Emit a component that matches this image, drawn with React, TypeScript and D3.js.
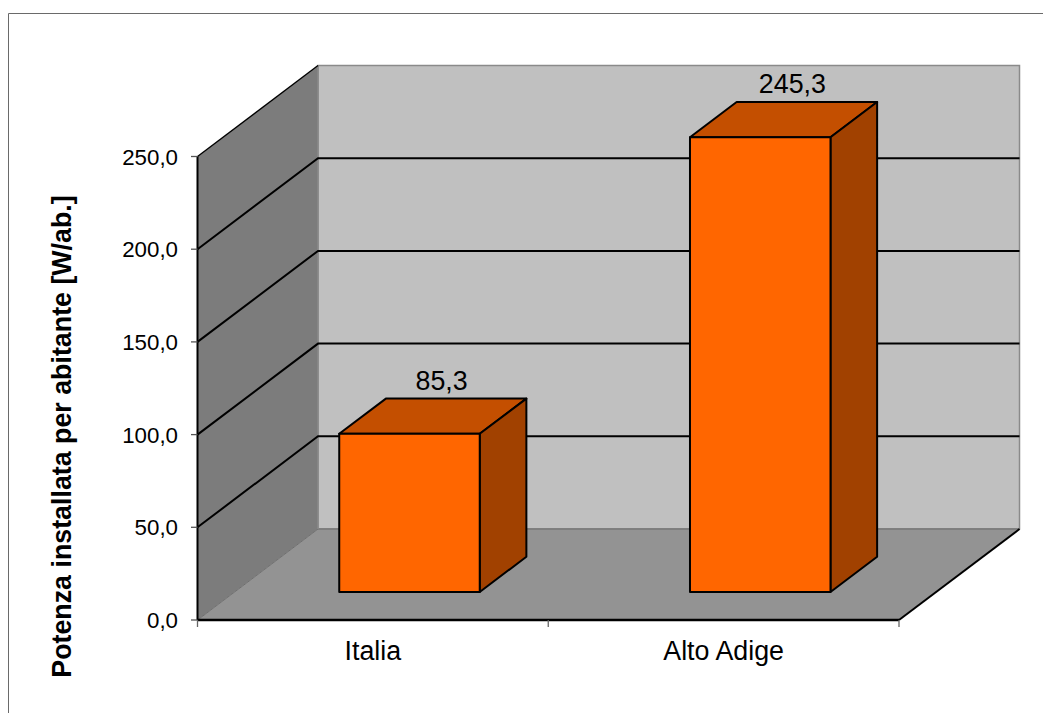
import React from "react";
import * as d3 from "d3";

const categories = ["Italia", "Alto Adige"];
const values = [85.3, 245.3];
const valueLabels = ["85,3", "245,3"];
const yTicks = [0, 50, 100, 150, 200, 250];
const yTickLabels = ["0,0", "50,0", "100,0", "150,0", "200,0", "250,0"];
const yTitle = "Potenza installata per abitante [W/ab.]";

const FONT = "'Liberation Sans', Arial, sans-serif";
const DEPTH_X = 120.5;
const DEPTH_Y = 91;
const BAR_NEAR = 0.308;
const BAR_FAR = 0.695;
const BAR_W = 140.5;

const x = d3.scaleBand<string>().domain(categories).range([197.5, 899]);
const y = d3.scaleLinear().domain([0, 250]).range([620, 156.5]);

type P = [number, number];
const proj = (px: number, v: number, z: number): P => [px + z * DEPTH_X, y(v) - z * DEPTH_Y];
const poly = (pts: P[]) => d3.line()(pts)! + "Z";
const seg = (a: P, b: P) => d3.line()([a, b])!;

export default function App() {
  const [x0, x1] = x.range();
  return (
    <svg width={1043} height={713} viewBox="0 0 1043 713"
      style={{ position: "absolute", left: 0, top: 0, background: "#fff" }} fontFamily={FONT}>
      <path d="M8.5 713V13.5H1043" fill="none" stroke="#6a6a6a" strokeWidth={1} />

      <path d={poly([proj(x0, 0, 1), proj(x1, 0, 1), proj(x1, 250, 1), proj(x0, 250, 1)])}
        fill="#c0c0c0" stroke="#8a8a8a" strokeWidth={1.5} />
      <path d={poly([proj(x0, 0, 0), proj(x0, 0, 1), proj(x0, 250, 1), proj(x0, 250, 0)])}
        fill="#7c7c7c" stroke="none" />
      <path d={poly([proj(x0, 0, 0), proj(x1, 0, 0), proj(x1, 0, 1), proj(x0, 0, 1)])}
        fill="#939393" stroke="none" />
      <path d={seg(proj(x0, 0, 0), proj(x0, 0, 1))} stroke="#6f6f6f" strokeWidth={1} />
      <path d={seg(proj(x0, 0, 1), proj(x1, 0, 1))} stroke="#777" strokeWidth={1.5} />
      <path d={seg(proj(x0, 0, 1), proj(x0, 250, 1))} stroke="#8a8a8a" strokeWidth={1.5} />

      {yTicks.filter((t) => t > 0).map((t) => (
        <path key={t} fill="none" stroke="#000" strokeWidth={t === 250 ? 1.3 : 2}
          d={d3.line()(t === 250
            ? [proj(x0, t, 0), proj(x0, t, 1)]
            : [proj(x0, t, 0), proj(x0, t, 1), proj(x1, t, 1)])!} />
      ))}

      {categories.map((c, i) => {
        const left = x(c)! + x.bandwidth() / 2 - BAR_W / 2 - 0.5;
        const right = left + BAR_W;
        const v = values[i];
        const fl = proj(left, v, BAR_NEAR);
        const fr = proj(right, v, BAR_NEAR);
        const bl = proj(left, v, BAR_FAR);
        const br = proj(right, v, BAR_FAR);
        const f0l = proj(left, 0, BAR_NEAR);
        const f0r = proj(right, 0, BAR_NEAR);
        const b0r = proj(right, 0, BAR_FAR);
        return (
          <g key={c} stroke="#000" strokeWidth={2} strokeLinejoin="round">
            <path d={poly([fl, fr, br, bl])} fill="#c44f00" />
            <path d={poly([fr, f0r, b0r, br])} fill="#a14100" />
            <path d={poly([fl, fr, f0r, f0l])} fill="#ff6600" />
            <text x={(bl[0] + br[0]) / 2 - 14.5} y={bl[1] - 9} textAnchor="middle" fontSize={26.8}
              stroke="none" fill="#000">{valueLabels[i]}</text>
          </g>
        );
      })}

      <path d={seg(proj(x0, 0, 0), proj(x0, 250, 0))} stroke="#000" strokeWidth={2} />
      <path d={seg(proj(x0, 0, 0), proj(x1, 0, 0))} stroke="#000" strokeWidth={2.5} />
      <path d={seg(proj(x1, 0, 0), proj(x1, 0, 1))} stroke="#000" strokeWidth={2} />

      {yTicks.map((t, i) => (
        <g key={t}>
          <path d={seg([191, y(t)], [x0, y(t)])} stroke="#555" strokeWidth={1.3} />
          <text x={178} y={y(t)} dy="0.36em" textAnchor="end" fontSize={22.3} fill="#000">{yTickLabels[i]}</text>
        </g>
      ))}

      {[x0, x0 + x.bandwidth(), x1].map((p) => (
        <path key={p} d={seg([p, 620], [p, 627])} stroke="#666" strokeWidth={1.3} />
      ))}
      {categories.map((c) => (
        <text key={c} x={x(c)! + x.bandwidth() / 2} y={659.5} textAnchor="middle" fontSize={26.8} fill="#000">{c}</text>
      ))}

      <text transform="translate(71,436.5) rotate(-90)" textAnchor="middle" fontSize={26.8} fontWeight="bold" fill="#000">{yTitle}</text>
    </svg>
  );
}
